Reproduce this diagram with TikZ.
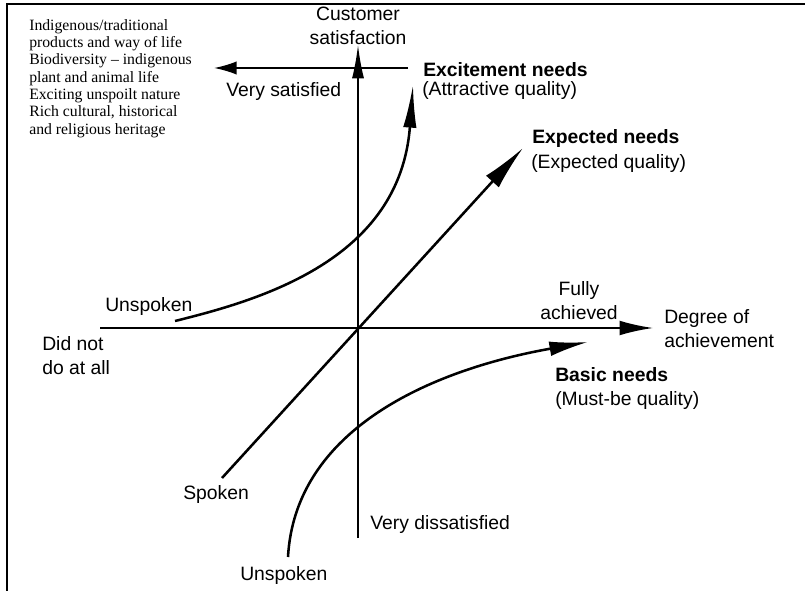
\documentclass[tikz,border=0pt]{standalone}
\usepackage{fontspec}
\setmainfont{Liberation Serif}
\setsansfont{Liberation Sans}
\usetikzlibrary{arrows.meta}

\begin{document}
\begin{tikzpicture}[
  x=0.75pt, y=-0.75pt,
  axis/.style={line width=1.3pt},
  need/.style={line width=1.9pt},
  lbl/.style={font=\sffamily\fontsize{14.5}{18}\selectfont, inner sep=0pt, align=left},
  bold/.style={lbl, font=\sffamily\bfseries\fontsize{14.5}{18}\selectfont},
  note/.style={font=\rmfamily\fontsize{11.8}{13}\selectfont, inner sep=0pt, align=left}
]
\useasboundingbox (0,0) rectangle (805,591);
\draw [line width=1.6pt] (7,591) -- (7,4) -- (805,4);

% axes
\coordinate (ytop) at (358,45);
\coordinate (ybot) at (358,538);
\coordinate (xleft) at (100,328);
\coordinate (xright) at (653,328);
\draw [axis, -{Latex[length=25pt, width=9pt]}] (ybot) -- (ytop);
\draw [axis, -{Latex[length=25pt, width=11pt]}] (xleft) -- (xright);

% labels
\node [note, anchor=north west] (list) at (29,19) {Indigenous/traditional\\products and way of life\\Biodiversity -- indigenous\\plant and animal life\\Exciting unspoilt nature\\Rich cultural, historical\\and religious heritage};
\node [lbl, align=center] (cust) at (358,26) {Customer\\satisfaction};
\node [lbl, anchor=west] (vsat) at (226,92) {Very satisfied};
\node [bold, anchor=west] (exc) at (423,70) {Excitement needs};
\node [lbl, anchor=west] (attr) at (422,91) {(Attractive quality)};
\node [bold, anchor=west] (expn) at (532,139) {Expected needs};
\node [lbl, anchor=west] (expq) at (531,164) {(Expected quality)};
\node [lbl, align=center] (fully) at (579,301) {Fully\\achieved};
\node [lbl, anchor=west] (degree) at (664,329) {Degree of\\achievement};
\node [bold, anchor=west] (basic) at (555,375) {Basic needs};
\node [lbl, anchor=west] (must) at (555,400) {(Must-be quality)};
\node [lbl, anchor=west] (unsp) at (105,306) {Unspoken};
\node [lbl, anchor=west] (didnot) at (42,356) {Did not\\do at all};
\node [lbl, anchor=west] (spoken) at (183,494) {Spoken};
\node [lbl, anchor=west] (vdis) at (370,524) {Very dissatisfied};
\node [lbl, anchor=west] (unspb) at (240,575) {Unspoken};

% pointer to the list
\coordinate (lead) at (408,68);
\coordinate (leadtip) at (214,68);
\draw [axis, -{Latex[length=17pt, width=10pt]}] (lead) -- (leadtip);

% needs
\coordinate (e0) at (175,321);
\coordinate (e1) at (413,85);
\coordinate (x0) at (222,478);
\coordinate (x1) at (523,148);
\coordinate (b0) at (288,557);
\coordinate (b1) at (588,342);
\draw [need, -{Latex[length=32pt, width=10pt]}] (e0) .. controls (260,300) and (400,260) .. (e1);
\draw [need, -{Latex[length=34pt, width=13pt]}] (x0) -- (x1);
\draw [need, -{Latex[length=29pt, width=11pt]}] (b0) .. controls (295,430) and (430,370) .. (b1);
\end{tikzpicture}
\end{document}
